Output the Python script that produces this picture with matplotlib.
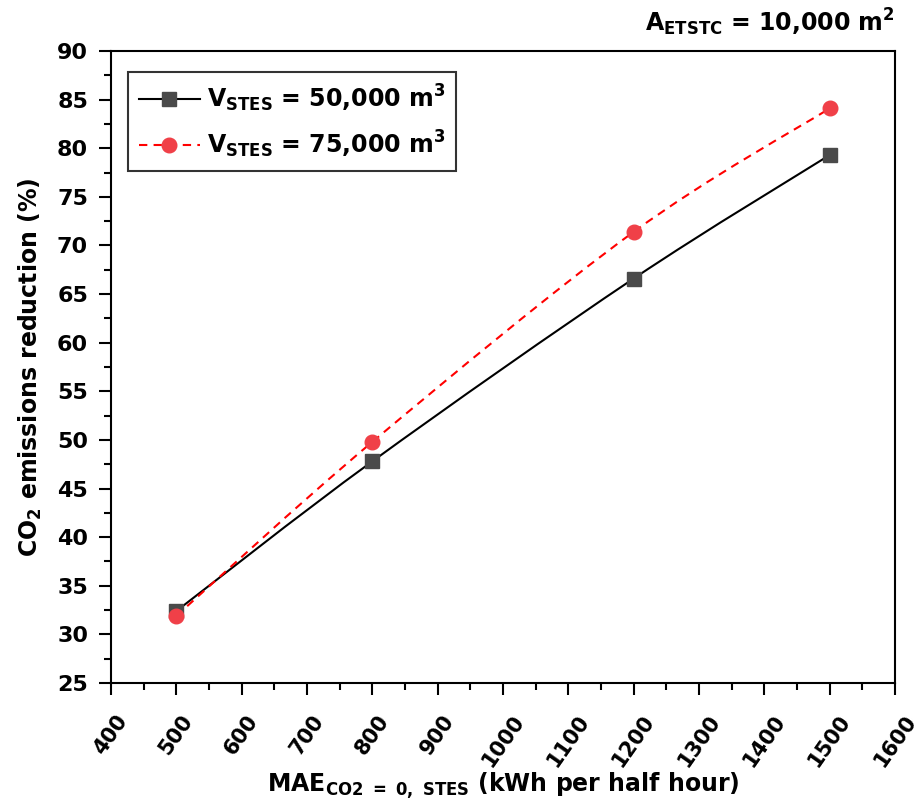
import numpy as np
import matplotlib.pyplot as plt
from matplotlib.path import Path
from matplotlib.patches import PathPatch
from matplotlib.lines import Line2D

plt.rcParams['font.family'] = ['DejaVu Sans']
plt.rcParams['font.weight'] = 'bold'
plt.rcParams['mathtext.fontset'] = 'custom'
plt.rcParams['mathtext.rm'] = 'DejaVu Sans:bold'
plt.rcParams['mathtext.bf'] = 'DejaVu Sans:bold'
plt.rcParams['mathtext.it'] = 'DejaVu Sans:bold'
plt.rcParams['mathtext.default'] = 'bf'

mae = [500, 800, 1200, 1500]
red_50k = [32.4, 47.8, 66.6, 79.3]
red_75k = [31.9, 49.8, 71.4, 84.1]

xticks = list(range(400, 1601, 100))
yticks = list(range(25, 91, 5))

label_50k = r'V$_{STES}$ = 50,000 m$^{3}$'
label_75k = r'V$_{STES}$ = 75,000 m$^{3}$'

grey = '#4a4a4a'
red = '#f04048'
dash = (0, (4, 3))


def spline_path(x, y):
    # Catmull-Rom curve through the points, written as cubic Bezier segments
    x = np.asarray(x, float)
    y = np.asarray(y, float)
    px = np.concatenate([[x[0]], x, [x[-1]]])
    py = np.concatenate([[y[0]], y, [y[-1]]])
    verts = [(x[0], y[0])]
    codes = [Path.MOVETO]
    for i in range(1, len(x)):
        c1 = (px[i] + (px[i + 1] - px[i - 1]) / 6, py[i] + (py[i + 1] - py[i - 1]) / 6)
        c2 = (px[i + 1] - (px[i + 2] - px[i]) / 6, py[i + 1] - (py[i + 2] - py[i]) / 6)
        verts += [c1, c2, (px[i + 1], py[i + 1])]
        codes += [Path.CURVE4] * 3
    return Path(verts, codes)


fig = plt.figure(figsize=(9.23, 8.08), dpi=100)
ax = fig.add_axes([0.1203, 0.1547, 0.8494, 0.7822])

ax.add_patch(PathPatch(spline_path(mae, red_50k), fill=False, edgecolor='black', lw=1.5))
ax.add_patch(PathPatch(spline_path(mae, red_75k), fill=False, edgecolor='#ff0000',
                       lw=1.5, linestyle=dash))
ax.plot(mae, red_50k, 's', ms=10.5, color=grey, zorder=3)
ax.plot(mae, red_75k, 'o', ms=10.5, color=red, zorder=4)

ax.set_xlim(400, 1600)
ax.set_ylim(25, 90)
ax.set_xticks(xticks)
ax.set_xticklabels([str(v) for v in xticks], fontsize=15, fontweight='bold',
                   rotation=55, ha='center', va='top')
ax.set_yticks(yticks)
ax.set_yticklabels([str(v) for v in yticks], fontsize=16, fontweight='bold')
ax.set_xticks(np.arange(450, 1600, 100), minor=True)
ax.set_yticks(np.arange(27.5, 90, 5), minor=True)
ax.tick_params(which='major', direction='out', length=8.5, width=1.5)
ax.tick_params(which='minor', direction='out', length=5, width=1.5)
ax.tick_params(axis='x', pad=12)
ax.tick_params(axis='y', pad=8)
for sp in ax.spines.values():
    sp.set_linewidth(1.5)

ax.set_xlabel(r'MAE$_{CO2\ =\ 0,\ STES}$ (kWh per half hour)', fontsize=17,
              fontweight='bold', labelpad=0)
ax.set_ylabel(r'CO$_{2}$ emissions reduction (%)', fontsize=17,
              fontweight='bold', labelpad=9)
ax.set_title(r'A$_{ETSTC}$ = 10,000 m$^{2}$', fontsize=17,
             fontweight='bold', loc='right', pad=14, x=1.0)

handles = [
    Line2D([], [], color='black', lw=1.5, marker='s', ms=10.5,
           markerfacecolor=grey, markeredgecolor=grey),
    Line2D([], [], color='#ff0000', lw=1.5, linestyle=dash, marker='o',
           ms=10.5, markerfacecolor=red, markeredgecolor=red),
]
leg = ax.legend(handles, [label_50k, label_75k], loc='upper left',
                bbox_to_anchor=(0.0217, 0.9668), fontsize=17, frameon=True,
                fancybox=False, edgecolor='black', handlelength=2.6,
                handletextpad=0.3, borderpad=0.45, labelspacing=0.62,
                borderaxespad=0.0)
leg.get_frame().set_linewidth(1.5)

plt.savefig('out.png', dpi=100)
